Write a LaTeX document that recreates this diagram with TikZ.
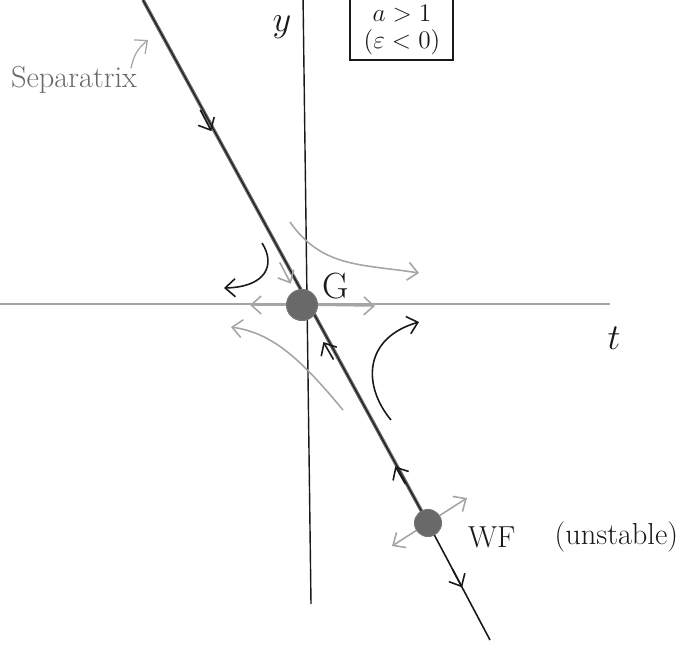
\documentclass[tikz,border=0pt]{standalone}
\usepackage{amsmath,amssymb}
\usepackage{xcolor}
\usepackage{tikz}
\usetikzlibrary{arrows.meta,positioning,calc}
\definecolor{pencilgray}{RGB}{165, 165, 165}
\definecolor{leadgray}{RGB}{105, 105, 105}
\definecolor{inkblack}{RGB}{25, 25, 25}

\begin{document}
\begin{tikzpicture}[x=0.02cm, y=-0.02cm,
  axisline/.style={line width=0.6pt, color=pencilgray},
  yline/.style={line width=0.8pt, color=inkblack},
  sepline/.style={line width=2pt, color=leadgray},
  fixpt/.style={circle, fill=leadgray, draw=inkblack!60, line width=0.6pt, inner sep=0pt},
  flowarrow/.style={-{Straight Barb[length=2mm,width=3.6mm]}, line width=0.9pt, color=inkblack},
  grayarrow/.style={flowarrow, color=pencilgray},
  lbl/.style={font=\Large, text=inkblack, inner sep=1pt}
]
\useasboundingbox (0,0) rectangle (693,652);

% Axes
\coordinate (tL) at (0,304);
\coordinate (tR) at (610,304);
\coordinate (yT) at (303,-5);
\coordinate (yB) at (311,604);
\draw[axisline] (tL) -- (tR);
\draw[yline] (yT) -- (yB);
\node[lbl, font=\huge] (tlbl) at (614,338) {$t$};
\node[lbl, font=\huge] (ylbl) at (282,27) {$y$};

% Parameter box (open at the top edge)
\node[lbl, font=\Large, align=center] (cond) at (402,30) {$a>1$\\[-3pt]$(\varepsilon<0)$};
\draw[line width=0.9pt, inkblack] (350,-10) |- (453,60) -- (453,-10);

% Separatrix through G and WF
\coordinate (sepTop) at (143,0);
\coordinate (sepBot) at (490,640);
\coordinate (Gc) at (302,305);
\coordinate (WFc) at (428,523);
\draw[sepline] (sepTop) -- (WFc);
\draw[line width=0.6pt, inkblack] (sepTop) -- (WFc);
\draw[line width=0.9pt, inkblack] (WFc) -- (sepBot);

% Arrows on the separatrix
\draw[flowarrow] ($(sepTop)!0.36!(Gc)$) -- ($(sepTop)!0.43!(Gc)$);
\draw[grayarrow] ($(sepTop)!0.86!(Gc)$) -- ($(sepTop)!0.93!(Gc)$);
\draw[flowarrow] ($(Gc)!0.25!(WFc)$) -- ($(Gc)!0.17!(WFc)$);
\draw[flowarrow] ($(Gc)!0.82!(WFc)$) -- ($(Gc)!0.74!(WFc)$);
\draw[flowarrow] ($(WFc)!0.40!(sepBot)$) -- ($(WFc)!0.55!(sepBot)$);

% Saddle G
\coordinate (gLeft) at (250,305);
\coordinate (gRight) at (375,306);
\draw[grayarrow] (Gc) -- (gLeft);
\draw[grayarrow] (Gc) -- (gRight);
\node[fixpt, minimum size=0.62cm] (G) at (Gc) {};
\node[lbl, font=\huge] (glbl) at (336,286) {G};

% Orbits around G
\coordinate (ulA) at (262,243);
\coordinate (ulB) at (224,288);
\draw[flowarrow] (ulA) .. controls (276,265) and (266,287) .. (ulB);
\coordinate (urA) at (290,222);
\coordinate (urB) at (419,273);
\draw[grayarrow] (urA) .. controls (322,268) and (362,264) .. (urB);
\coordinate (llA) at (343,410);
\coordinate (llB) at (231,327);
\draw[grayarrow] (llA) .. controls (300,358) and (272,333) .. (llB);
\coordinate (lrA) at (391,420);
\coordinate (lrB) at (419,322);
\draw[flowarrow] (lrA) .. controls (362,385) and (364,338) .. (lrB);

% Unstable node WF
\coordinate (wfUp) at (467,498);
\coordinate (wfDown) at (392,546);
\draw[grayarrow] (WFc) -- (wfUp);
\draw[grayarrow] (WFc) -- (wfDown);
\node[fixpt, minimum size=0.54cm] (WF) at (WFc) {};
\node[lbl, font=\LARGE, anchor=west] (wflbl) at (466,537) {WF};
\node[lbl, font=\LARGE, right=0.7cm of wflbl] (unst) {(unstable)};

% Separatrix label
\node[lbl, font=\LARGE, text=leadgray] (seplbl) at (74,80) {Separatrix};
\coordinate (sepPtr) at (148,40);
\draw[grayarrow, line width=0.7pt] ($(seplbl.north east)+(-8,4)$) to[bend left=20] (sepPtr);

\end{tikzpicture}
\end{document}
